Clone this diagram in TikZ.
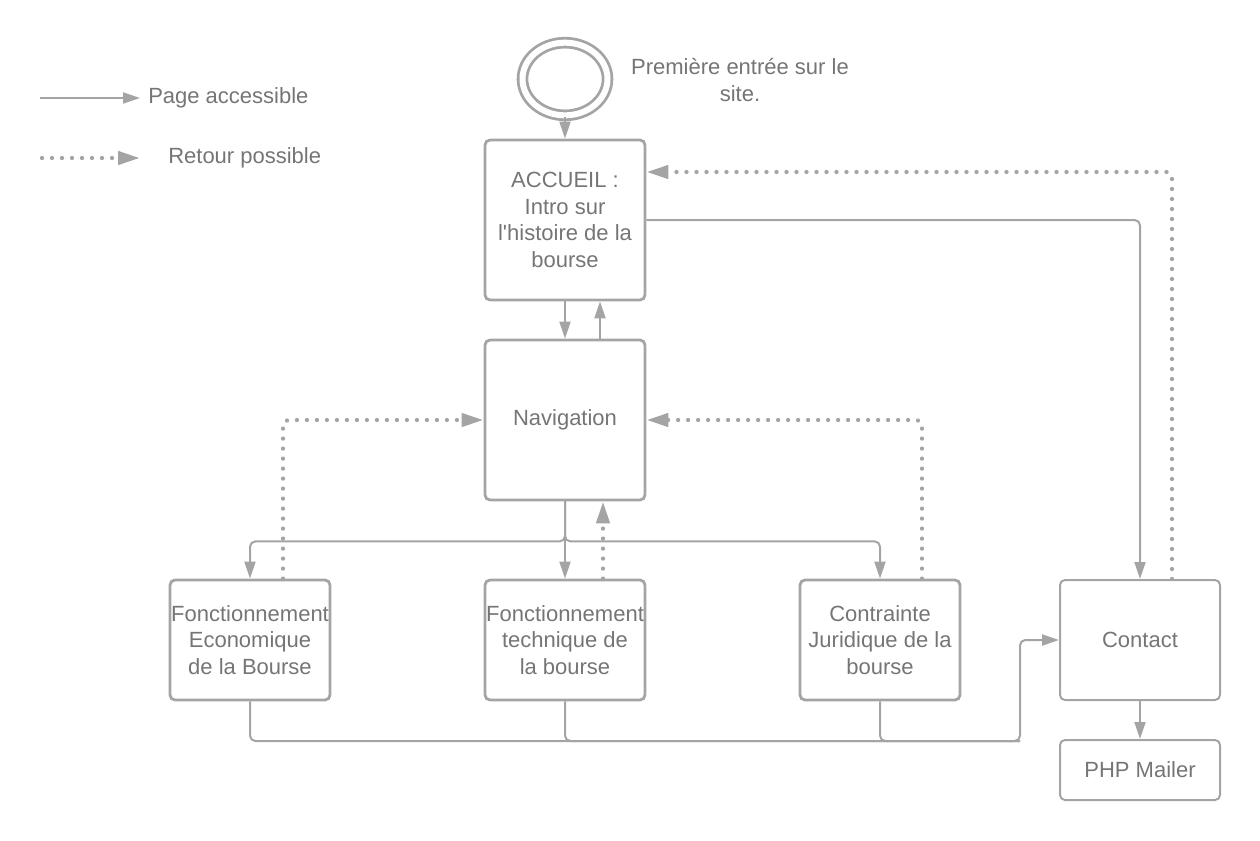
\documentclass[tikz,border=0pt]{standalone}
\usepackage{fontspec}
\setmainfont{Liberation Sans}
\usetikzlibrary{arrows.meta,shapes.geometric,calc}
\definecolor{linegray}{RGB}{164,164,164}
\definecolor{textgray}{RGB}{117,117,117}
\tikzset{
  box/.style={draw=linegray, line width=2.1pt, rounded corners=3.75pt, minimum width=120pt, minimum height=120pt, inner sep=0pt, align=center, text=textgray, font=\fontsize{16.5pt}{20pt}\selectfont},
  thinbox/.style={box, line width=1.5pt},
  lbl/.style={inner sep=0pt, text=textgray, font=\fontsize{16.5pt}{20pt}\selectfont},
  conn/.style={draw=linegray, line width=1.5pt, rounded corners=4pt, -{Triangle[length=12.75pt,width=8.25pt]}},
  plainconn/.style={draw=linegray, line width=1.5pt, rounded corners=4pt},
  back/.style={draw=linegray, line width=3.2pt, line cap=round, dash pattern=on 0pt off 7.5pt, rounded corners=4pt, -{Triangle[length=16.5pt,width=9.75pt,fill=linegray]}},
}
\begin{document}
\begin{tikzpicture}[x=0.75pt, y=-0.75pt]
\useasboundingbox (0,0) rectangle (1260,840);

% legend
\coordinate (l1a) at (40,98);
\coordinate (l1b) at (140,98);
\coordinate (l2a) at (42,158);
\coordinate (l2b) at (140,158);
\draw[conn] (l1a) -- (l1b);
\draw[back] (l2a) -- (l2b);
\node[lbl, anchor=west] (t1) at (148,98) {Page accessible};
\node[lbl, anchor=west] (t2) at (168,158) {Retour possible};

% start
\node[ellipse, draw=linegray, line width=2.1pt, double, double distance=4.5pt, minimum width=63.75pt, minimum height=54.5pt, inner sep=0pt] (start) at (565,79) {};
\node[lbl, align=center] (first) at (740,80) {Première entrée sur le\\site.};

% boxes
\node[box] (acc) at (565,220) {ACCUEIL :\\Intro sur\\l\textquotesingle histoire de la\\bourse};
\node[box] (nav) at (565,420) {Navigation};
\node[box, minimum height=90pt] (b1) at (250,640) {Fonctionnement\\Economique\\de la Bourse};
\node[box, minimum height=90pt] (b2) at (565,640) {Fonctionnement\\technique de\\la bourse};
\node[box, minimum height=90pt] (b3) at (880,640) {Contrainte\\Juridique de la\\bourse};
\node[thinbox, minimum height=90pt] (contact) at (1140,640) {Contact};
\node[thinbox, minimum height=45pt] (php) at (1140,770) {PHP Mailer};

\coordinate (j) at (1020,741);

% solid connectors
\draw[conn] (start.south) -- (acc.north);
\draw[conn] (acc.south) -- (nav.north);
\draw[conn] ([xshift=26.25pt]nav.north) -- ([xshift=26.25pt]acc.south);
\draw[conn] (acc.east) -| (contact.north);
\draw[conn] (nav.south) -- ++(0,40) -| (b1.north);
\draw[conn] (nav.south) -- (b2.north);
\draw[conn] (nav.south) -- ++(0,40) -| (b3.north);
\draw[conn] (b1.south) |- (j) |- (contact.west);
\draw[plainconn] (b2.south) |- (j);
\draw[plainconn] (b3.south) |- (j);
\draw[conn] (contact.south) -- (php.north);

% return connectors
\draw[back] ([xshift=24pt]contact.north) |- ([yshift=36pt]acc.east);
\draw[back] ([xshift=24.75pt]b1.north) |- (nav.west);
\draw[back] ([xshift=28.5pt]b2.north) -- ([xshift=28.5pt]nav.south);
\draw[back] ([xshift=31.5pt]b3.north) |- (nav.east);
\end{tikzpicture}
\end{document}
